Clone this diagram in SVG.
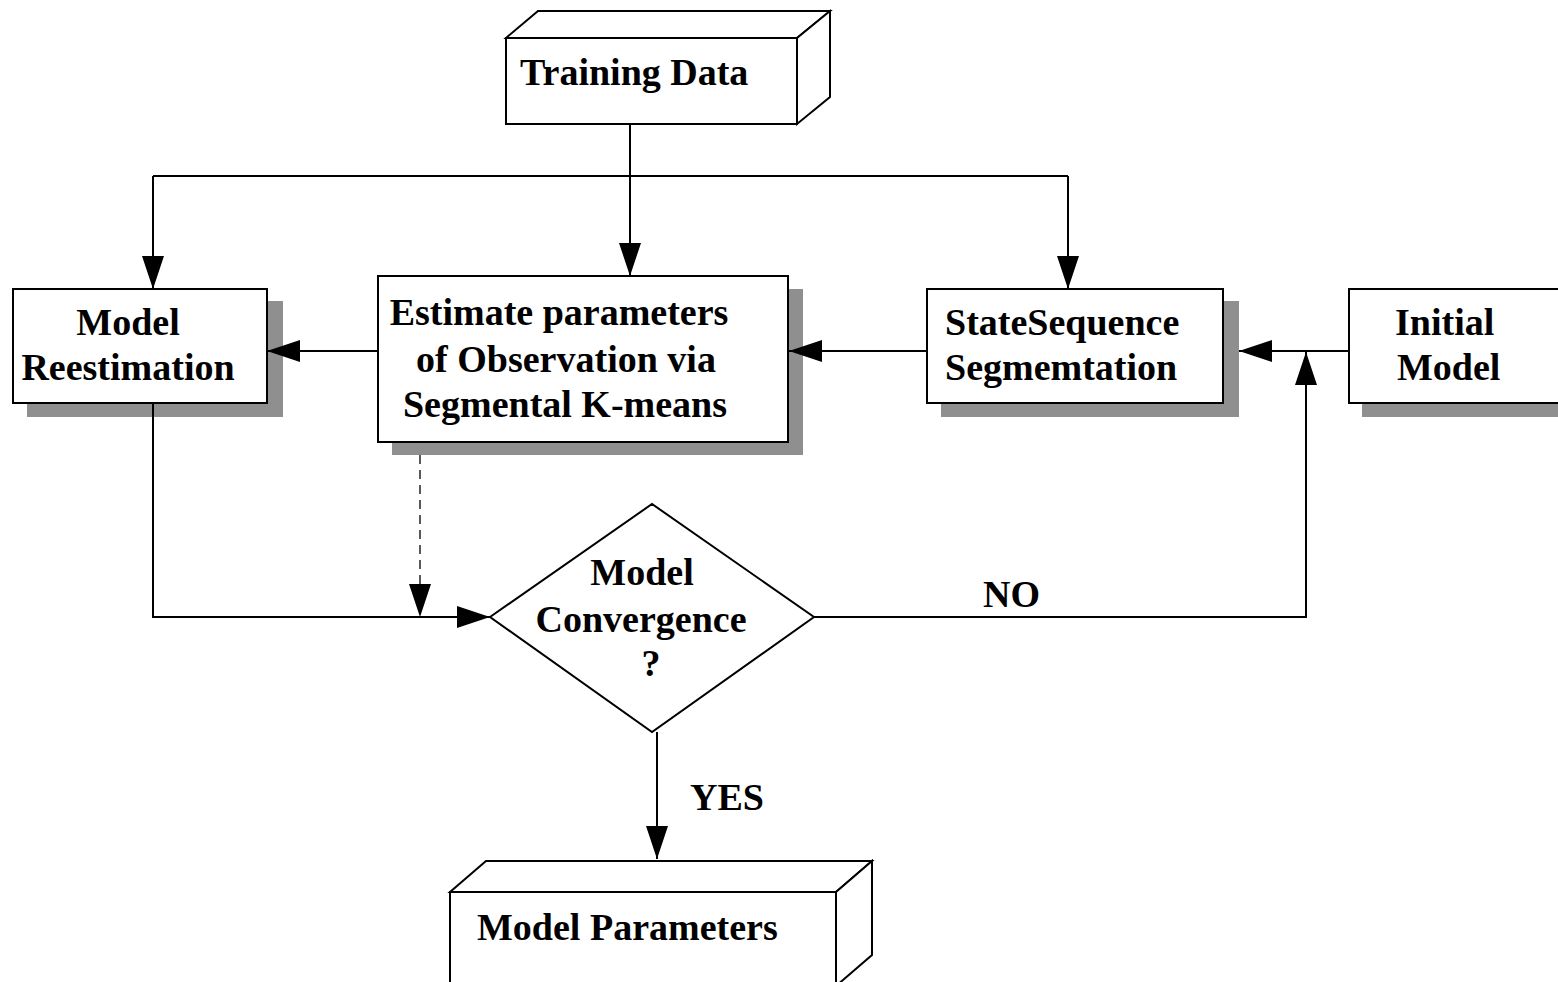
<svg xmlns="http://www.w3.org/2000/svg" width="1558" height="982" viewBox="0 0 1558 982">
<style>
.box{fill:#fff;stroke:#000;stroke-width:2}
.sh{fill:#8f8f8f;stroke:none}
.t{font-family:"Liberation Serif","Times New Roman",serif;font-weight:bold;font-size:38px;fill:#000}
.c{fill:none;stroke:#000;stroke-width:2}
.d{fill:none;stroke:#000;stroke-width:1.3;stroke-dasharray:9,6}
</style>
<defs>
<marker id="ah" viewBox="0 0 33 22" refX="33" refY="11" markerWidth="33" markerHeight="22" markerUnits="userSpaceOnUse" orient="auto">
<path d="M0,0 L33,11 L0,22 z" fill="#000"/>
</marker>
</defs>
<rect width="1558" height="982" fill="#fff"/>

<g id="training-data">
<polygon class="box" points="506,38 538,11 830,11 797,38"/>
<polygon class="box" points="797,38 830,11 830,97 797,124"/>
<rect class="box" x="506" y="38" width="291" height="86"/>
<text class="t" x="520" y="85">Training Data</text>
</g>

<g id="model-reestimation">
<rect class="sh" x="27" y="301" width="256" height="116"/>
<rect class="box" x="13" y="289" width="254" height="114"/>
<text class="t" x="128" y="335" text-anchor="middle">Model</text>
<text class="t" x="128" y="380" text-anchor="middle">Reestimation</text>
</g>

<g id="estimate">
<rect class="sh" x="392" y="289" width="411" height="166"/>
<rect class="box" x="378" y="276" width="410" height="166"/>
<text class="t" x="559" y="325" text-anchor="middle">Estimate parameters</text>
<text class="t" x="566" y="372" text-anchor="middle">of Observation via</text>
<text class="t" x="565" y="417" text-anchor="middle">Segmental K-means</text>
</g>

<g id="state-sequence">
<rect class="sh" x="941" y="301" width="298" height="116"/>
<rect class="box" x="927" y="289" width="296" height="114"/>
<text class="t" x="945" y="335">StateSequence</text>
<text class="t" x="945" y="380">Segmemtation</text>
</g>

<g id="initial-model">
<rect class="sh" x="1362" y="301" width="240" height="116"/>
<rect class="box" x="1349" y="289" width="240" height="114"/>
<text class="t" x="1395" y="335">Initial</text>
<text class="t" x="1397" y="380">Model</text>
</g>

<g id="convergence">
<polygon class="box" points="490,617 652,504 814,617 652,732"/>
<text class="t" x="642" y="585" text-anchor="middle">Model</text>
<text class="t" x="641" y="632" text-anchor="middle">Convergence</text>
<text class="t" x="651" y="676" text-anchor="middle">?</text>
</g>

<g id="model-parameters">
<polygon class="box" points="450,892 486,861 872,861 836,892"/>
<polygon class="box" points="836,892 872,861 872,955 836,986"/>
<rect class="box" x="450" y="892" width="386" height="110"/>
<text class="t" x="477" y="940">Model Parameters</text>
</g>

<g id="connectors">
<path class="c" d="M630,124 V276" marker-end="url(#ah)"/>
<path class="c" d="M153,176 H1068"/>
<path class="c" d="M153,176 V289" marker-end="url(#ah)"/>
<path class="c" d="M1068,176 V289" marker-end="url(#ah)"/>
<path class="c" d="M378,351 H267" marker-end="url(#ah)"/>
<path class="c" d="M927,351 H789" marker-end="url(#ah)"/>
<path class="c" d="M1349,351 H1239" marker-end="url(#ah)"/>
<path class="c" d="M153,403 V617 H490" marker-end="url(#ah)"/>
<path class="d" d="M420,455 V617" marker-end="url(#ah)"/>
<path class="c" d="M814,617 H1306 V352" marker-end="url(#ah)"/>
<path class="c" d="M657,732 V859" marker-end="url(#ah)"/>
<text class="t" x="983" y="607">NO</text>
<text class="t" x="690" y="810">YES</text>
</g>
</svg>
